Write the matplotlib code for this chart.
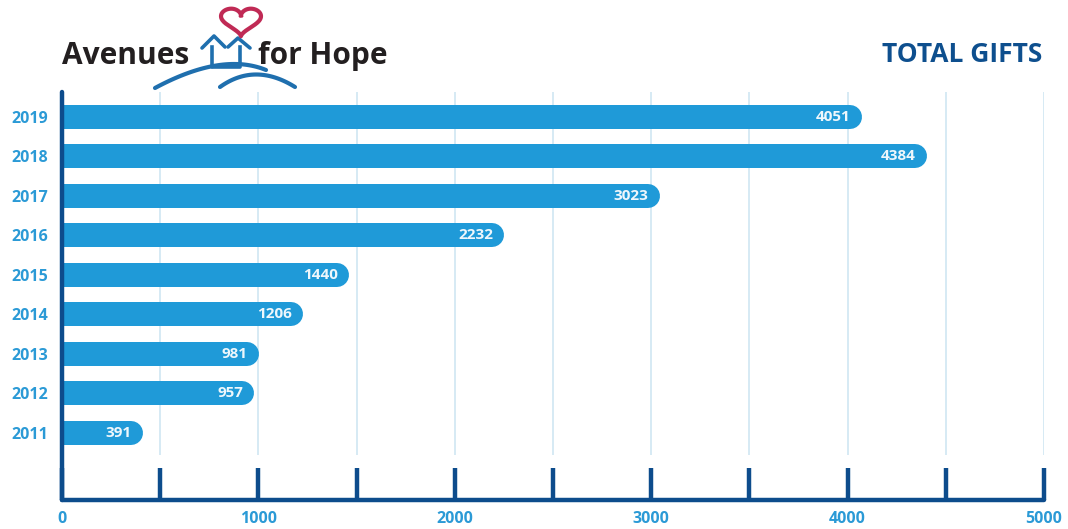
import numpy as np
import matplotlib
matplotlib.use('Agg')
from matplotlib import pyplot as plt

plt.rcParams['font.family'] = ['Open Sans', 'DejaVu Sans']

# data
years = ['2011', '2012', '2013', '2014', '2015', '2016', '2017', '2018', '2019']
gifts = [391, 957, 981, 1206, 1440, 2232, 3023, 4384, 4051]
xticks_major = [0, 1000, 2000, 3000, 4000, 5000]
xticks_minor = [500, 1500, 2500, 3500, 4500]

BAR = '#1f9ad8'
NAVY = '#0d4c8c'
LABEL = '#2b9ad6'
GRID = '#d3e8f3'

W, H = 1068, 529
fig = plt.figure(figsize=(W/100, H/100), dpi=100)
ax = fig.add_axes([62/W, 29/H, 982/W, 408/H])

ypos = np.arange(len(years))
ax.set_xlim(0, 5000)
ax.set_ylim(-1.7, 8.63)

# light grid lines (stop above the tick marks)
ax.vlines(xticks_minor + xticks_major[1:], -0.56, 8.63, color=GRID, lw=1.3, zorder=0)

# rounded bars: thick line with round cap, cap ends at the value
px_per_unit = 982 / 5000.0
bar_px = 24
r = (bar_px/2) / px_per_unit
for y, v in zip(ypos, gifts):
    ax.plot([0, v - r + 20], [y, y], color=BAR, lw=bar_px*0.72,
            solid_capstyle='round', zorder=2)
    ax.text(v - 7/px_per_unit, y, str(v), color='#eef7fc', ha='right', va='center',
            fontsize=11, fontweight='bold', zorder=3)

# axes styling
for s in ['top', 'right']:
    ax.spines[s].set_visible(False)
for s in ['left', 'bottom']:
    ax.spines[s].set_color(NAVY)
    ax.spines[s].set_linewidth(3.2)
    ax.spines[s].set_capstyle('round')
ax.spines['left'].set_zorder(4)

ax.set_yticks(ypos)
ax.set_yticklabels(years)
ax.tick_params(axis='y', length=0, pad=10, labelcolor=LABEL, labelsize=11.5)
for t in ax.get_yticklabels():
    t.set_fontweight('bold')

ax.set_xticks(xticks_major)
ax.set_xticks(xticks_minor, minor=True)
ax.tick_params(axis='x', which='both', direction='in', length=23, width=3.2,
               color=NAVY, labelcolor=LABEL, labelsize=11.5, pad=8)
for t in ax.get_xticklabels():
    t.set_fontweight('bold')

# header: logo + title, drawn in pixel coords
hd = fig.add_axes([0, 0, 1, 1], zorder=-1)
hd.set_xlim(0, W)
hd.set_ylim(H, 0)
hd.axis('off')

hd.text(62, 64, 'Avenues', fontsize=21.5, fontweight='bold', color='#231f20',
        ha='left', va='baseline')
hd.text(258, 64, 'for Hope', fontsize=21.5, fontweight='bold', color='#231f20',
        ha='left', va='baseline')

LOGO = '#1f6fae'
# two little houses
hd.plot([202, 214, 225], [48, 36, 47], color=LOGO, lw=2.6, solid_capstyle='round')
hd.plot([228, 238, 250], [47, 38, 48], color=LOGO, lw=2.6, solid_capstyle='round')
hd.plot([212, 212, 240, 240], [47, 67, 67, 47], color=LOGO, lw=2.6)
# hills
t = np.linspace(0, 1, 40)
hx = 155*(1-t)**2 + 2*222*t*(1-t) + 266*t**2
hy = 88*(1-t)**2 + 2*52*t*(1-t) + 70*t**2
hd.plot(hx, hy, color=LOGO, lw=3, solid_capstyle='round')
hx2 = 220*(1-t)**2 + 2*255*t*(1-t) + 295*t**2
hy2 = 87*(1-t)**2 + 2*62*t*(1-t) + 87*t**2
hd.plot(hx2, hy2, color=LOGO, lw=3, solid_capstyle='round')
# heart
s = np.linspace(0, 2*np.pi, 200)
kx = 16*np.sin(s)**3
ky = 13*np.cos(s) - 5*np.cos(2*s) - 2*np.cos(3*s) - np.cos(4*s)
hd.plot(241 + kx*1.25, 20 - ky*0.95, color='#c02a55', lw=3)

hd.text(1042, 55, 'TOTAL GIFTS', fontsize=19, fontweight='bold', color='#0e4f8e',
        ha='right', va='center')

fig.savefig('out.png', dpi=100)
